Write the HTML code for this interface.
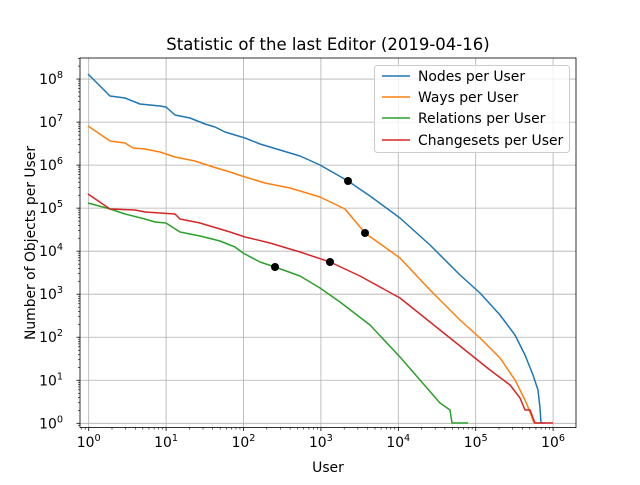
<!DOCTYPE html>
<html><head><meta charset="utf-8"><style>
body{margin:0;background:#fff;width:640px;height:480px;overflow:hidden}
text{font-family:"DejaVu Sans","Liberation Sans",sans-serif;fill:#000}
</style></head><body>
<svg id="s" width="640" height="480" xmlns="http://www.w3.org/2000/svg">
<rect width="640" height="480" fill="#fff"/>
<g id="grid"></g>
<g fill="none" stroke-width="1.5" stroke-linejoin="round">
<polyline stroke="#1f77b4" points="88,74 110,96 125,98 140,104 150,105 160,106 166,107 175,115 190,118 205,124 215,127 225,132 245,138 260,144 280,150 300,156 320,165 348,181 370,196 400,218 430,245 460,275 480,293 500,315 515,335 525,355 533,375 538,390 540,408 541,423 545,423"/>
<polyline stroke="#ff7f0e" points="88,126 110,141 125,143 133,148 145,149 160,152 175,157 195,161 210,166 230,172 245,177 265,183 290,188 320,197 345,209 365,233 400,258 430,290 460,320 480,338 500,358 515,380 525,400 530,412 534,423 540,423"/>
<polyline stroke="#2ca02c" points="88,203 110,209 125,214 145,219 155,222 166,223 180,232 200,236 220,241 235,247 243,253 260,262 275,267 300,276 320,288 340,302 370,325 400,357 420,380 440,403 450,410 452,423 468,423"/>
<polyline stroke="#d62728" points="88,194 110,209 135,210 145,212 175,214 180,219 200,223 230,232 245,237 270,243 300,252 330,262 360,276 400,298 430,322 460,346 490,370 510,385 520,398 525,410 530,410 535,423 553,423"/>
</g>
<g fill="#000"><circle cx="348" cy="181" r="4"/><circle cx="365" cy="233" r="4"/><circle cx="275" cy="267" r="4"/><circle cx="330" cy="262" r="4"/></g>
<rect x="80" y="58" width="496" height="369.5" fill="none" stroke="#000" stroke-width="0.8"/>
<g id="ticks" stroke="#000" stroke-width="0.8"></g>
<g id="labels" font-size="13.9"></g>
<text x="328" y="50" text-anchor="middle" font-size="16.5">Statistic of the last Editor (2019-04-16)</text>
<text x="328" y="472" text-anchor="middle" font-size="13.9">User</text>
<text transform="translate(35,243) rotate(-90)" text-anchor="middle" font-size="13.9">Number of Objects per User</text>
<rect x="374.5" y="65.5" width="195" height="87" rx="3" fill="#fff" fill-opacity="0.8" stroke="#ccc"/>
<g stroke-width="1.5"><line x1="382" y1="76" x2="410" y2="76" stroke="#1f77b4"/><line x1="382" y1="97" x2="410" y2="97" stroke="#ff7f0e"/><line x1="382" y1="118" x2="410" y2="118" stroke="#2ca02c"/><line x1="382" y1="140" x2="410" y2="140" stroke="#d62728"/></g>
<g font-size="13.9"><text x="418" y="81">Nodes per User</text><text x="418" y="102">Ways per User</text><text x="418" y="123">Relations per User</text><text x="418" y="145">Changesets per User</text></g>
</svg>
<script>
var NS="http://www.w3.org/2000/svg";
function el(p,t,a,txt){var e=document.createElementNS(NS,t);for(var k in a)e.setAttribute(k,a[k]);if(txt!=null)e.innerHTML=txt;document.getElementById(p).appendChild(e);}
function X(l){return 88.7+77.4*l}function Y(l){return 423.3-43.03*l}
for(var d=0;d<=6;d++){var x=X(d);
el("grid","line",{x1:x,x2:x,y1:58,y2:427.5,stroke:"#b0b0b0","stroke-width":0.8});
el("ticks","line",{x1:x,x2:x,y1:427.5,y2:431});
el("labels","text",{x:x,y:447,"text-anchor":"middle"},'10<tspan dy="-6" font-size="9.7">'+d+'</tspan>');
}
for(var d=-1;d<=6;d++)for(var m=2;m<10;m++){var x=X(d+Math.log10(m));if(x>80&&x<576)el("ticks","line",{x1:x,x2:x,y1:427.5,y2:429.5,"stroke-width":0.6});}
for(var d=0;d<=8;d++){var y=Y(d);
el("grid","line",{x1:80,x2:576,y1:y,y2:y,stroke:"#b0b0b0","stroke-width":0.8});
el("ticks","line",{x1:76.5,x2:80,y1:y,y2:y});
el("labels","text",{x:63,y:y+5,"text-anchor":"end"},'10<tspan dy="-6" font-size="9.7">'+d+'</tspan>');
}
for(var d=-1;d<=8;d++)for(var m=2;m<10;m++){var y=Y(d+Math.log10(m));if(y>58&&y<427)el("ticks","line",{x1:78,x2:80,y1:y,y2:y,"stroke-width":0.6});}
</script>
</body></html>
